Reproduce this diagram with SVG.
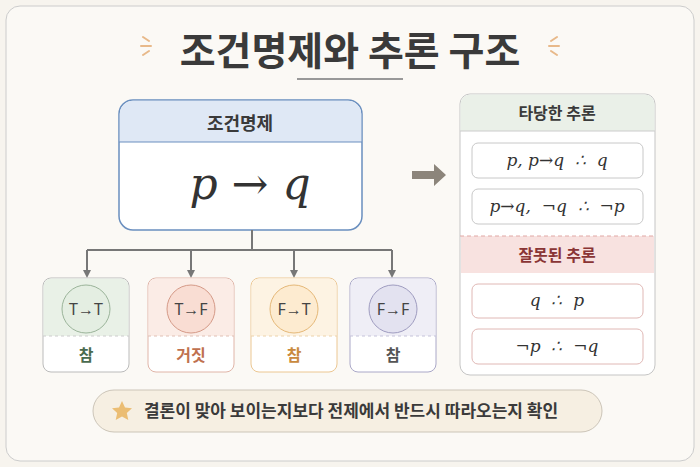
<svg xmlns="http://www.w3.org/2000/svg" width="700" height="467" viewBox="0 0 700 467">
<style>
.k{font-family:"Noto Sans CJK KR","Noto Sans",sans-serif;fill:#3a3a3a;text-anchor:middle}
.m{font-family:"DejaVu Serif","Liberation Serif",serif;font-style:italic;fill:#333;text-anchor:middle;white-space:pre}
.c{font-family:"Noto Sans","Liberation Sans",sans-serif;fill:#444;text-anchor:middle;font-size:16px}
.ln{stroke:#777;stroke-width:2;fill:none}
</style>
<defs>
<marker id="ar" markerWidth="8" markerHeight="8" refX="4" refY="4" orient="auto" markerUnits="userSpaceOnUse"><path d="M0,0 L8,4 L0,8Z" fill="#777"/></marker>
</defs>
<rect width="700" height="467" fill="#f7f4ee"/>
<rect x="6" y="6" width="688" height="455" rx="14" fill="#fbf9f5" stroke="#ccc"/>
<g id="title">
<text x="350" y="65" class="k" font-size="39" font-weight="bold">조건명제와 추론 구조</text>
<line x1="297" y1="79" x2="403" y2="79" stroke="#999" stroke-width="2"/>
<g stroke="#e8b98a" stroke-width="2" stroke-linecap="round"><path d="M143,37 l6,4 M141,46 h10 M143,55 l6,-4 M557,37 l-6,4 M559,46 h-10 M557,55 l-6,-4"/></g>
</g>
<g id="main">
<rect x="119" y="100" width="243" height="130" rx="14" fill="#fff" stroke="#6a8fbf" stroke-width="1.5"/>
<path d="M119.75,142 V114 a13.25,13.25 0 0 1 13.25,-13.25 H348 a13.25,13.25 0 0 1 13.25,13.25 V142Z" fill="#dfe8f5"/>
<line x1="119" y1="142" x2="362" y2="142" stroke="#6a8fbf"/>
<text x="240" y="130" class="k" font-size="18" font-weight="bold">조건명제</text>
<text x="250" y="199" class="m" font-size="44">p → q</text>
</g>
<g id="connectors">
<path class="ln" d="M252,230 V250 M87,250 H392"/>
<path class="ln" d="M87,250 V274" marker-end="url(#ar)"/>
<path class="ln" d="M191,250 V274" marker-end="url(#ar)"/>
<path class="ln" d="M294,250 V274" marker-end="url(#ar)"/>
<path class="ln" d="M392,250 V274" marker-end="url(#ar)"/>
<path d="M412,171 h22 v-7 l12,11 l-12,11 v-7 h-22z" fill="#8c857b"/>
</g>
<g id="n1"><rect x="43" y="278" width="86" height="94" rx="8" fill="#fff" stroke="#bbb"/><path d="M43.5,336 V286 a7.5,7.5 0 0 1 7.5,-7.5 H121 a7.5,7.5 0 0 1 7.5,7.5 V336Z" fill="#e9f1e7"/><line x1="43" y1="336" x2="129" y2="336" stroke="#ccc" stroke-dasharray="3 3"/><circle cx="86" cy="309" r="24" fill="#e4eee2" stroke="#9bb49a"/><text x="86" y="315" class="c">T→T</text><text x="86" y="361" class="k" font-size="16" font-weight="bold" style="fill:#4a6b4f">참</text></g>
<g id="n2"><rect x="148" y="278" width="86" height="94" rx="8" fill="#fff" stroke="#e0b5a8"/><path d="M148.5,336 V286 a7.5,7.5 0 0 1 7.5,-7.5 H226 a7.5,7.5 0 0 1 7.5,7.5 V336Z" fill="#fbece6"/><line x1="148" y1="336" x2="234" y2="336" stroke="#e0c0b5" stroke-dasharray="3 3"/><circle cx="191" cy="309" r="24" fill="#f9ddd3" stroke="#d59a88"/><text x="191" y="315" class="c">T→F</text><text x="191" y="361" class="k" font-size="16" font-weight="bold" style="fill:#c0714f">거짓</text></g>
<g id="n3"><rect x="251" y="278" width="86" height="94" rx="8" fill="#fff" stroke="#ecc792"/><path d="M251.5,336 V286 a7.5,7.5 0 0 1 7.5,-7.5 H329 a7.5,7.5 0 0 1 7.5,7.5 V336Z" fill="#fdf3e3"/><line x1="251" y1="336" x2="337" y2="336" stroke="#ecd2aa" stroke-dasharray="3 3"/><circle cx="294" cy="309" r="24" fill="#fdebd0" stroke="#e5b878"/><text x="294" y="315" class="c">F→T</text><text x="294" y="361" class="k" font-size="16" font-weight="bold" style="fill:#c98a3e">참</text></g>
<g id="n4"><rect x="350" y="278" width="86" height="94" rx="8" fill="#fff" stroke="#aaa8c8"/><path d="M350.5,336 V286 a7.5,7.5 0 0 1 7.5,-7.5 H428 a7.5,7.5 0 0 1 7.5,7.5 V336Z" fill="#efeef6"/><line x1="350" y1="336" x2="436" y2="336" stroke="#c5c3da" stroke-dasharray="3 3"/><circle cx="393" cy="309" r="24" fill="#e3e2f0" stroke="#9f9cc0"/><text x="393" y="315" class="c">F→F</text><text x="393" y="361" class="k" font-size="16" font-weight="bold" style="fill:#555">참</text></g>
<g id="panel">
<rect x="460" y="94" width="195" height="281" rx="10" fill="#fff" stroke="#c5c5c5"/>
<path d="M460.5,131 V104 a9.5,9.5 0 0 1 9.5,-9.5 H645 a9.5,9.5 0 0 1 9.5,9.5 V131Z" fill="#eaf0e8"/>
<line x1="460" y1="131" x2="655" y2="131" stroke="#ccc"/>
<text x="557" y="119" class="k" font-size="16" font-weight="bold">타당한 추론</text>
<rect x="472" y="143" width="171" height="35" rx="6" fill="#fff" stroke="#c8c8c8"/>
<text x="557" y="166" class="m" font-size="17">p, p→q  ∴  q</text>
<rect x="472" y="189" width="171" height="35" rx="6" fill="#fff" stroke="#c8c8c8"/>
<text x="557" y="212" class="m" font-size="17">p→q,  ¬q  ∴  ¬p</text>
<rect x="461" y="236" width="193" height="37" fill="#f8e2e0"/>
<line x1="460" y1="236" x2="655" y2="236" stroke="#e0a8a5" stroke-dasharray="4 3"/>
<text x="557" y="261" class="k" font-size="16" font-weight="bold" style="fill:#8a3535">잘못된 추론</text>
<rect x="472" y="284" width="171" height="34" rx="6" fill="#fff" stroke="#e0b8b5"/>
<text x="557" y="306" class="m" font-size="17">q  ∴  p</text>
<rect x="472" y="329" width="171" height="35" rx="6" fill="#fff" stroke="#e0b8b5"/>
<text x="557" y="352" class="m" font-size="17">¬p  ∴  ¬q</text>
</g>
<g id="note">
<rect x="93" y="390" width="509" height="42" rx="21" fill="#f6efe2" stroke="#ccc5b8"/>
<path d="M122,401 l3,6.5 7,0.8 -5.2,4.8 1.5,7 -6.3,-3.6 -6.3,3.6 1.5,-7 -5.2,-4.8 7,-0.8z" fill="#ebbd73"/>
<text x="351" y="417" class="k" font-size="17" font-weight="bold">결론이 맞아 보이는지보다 전제에서 반드시 따라오는지 확인</text>
</g>
</svg>
